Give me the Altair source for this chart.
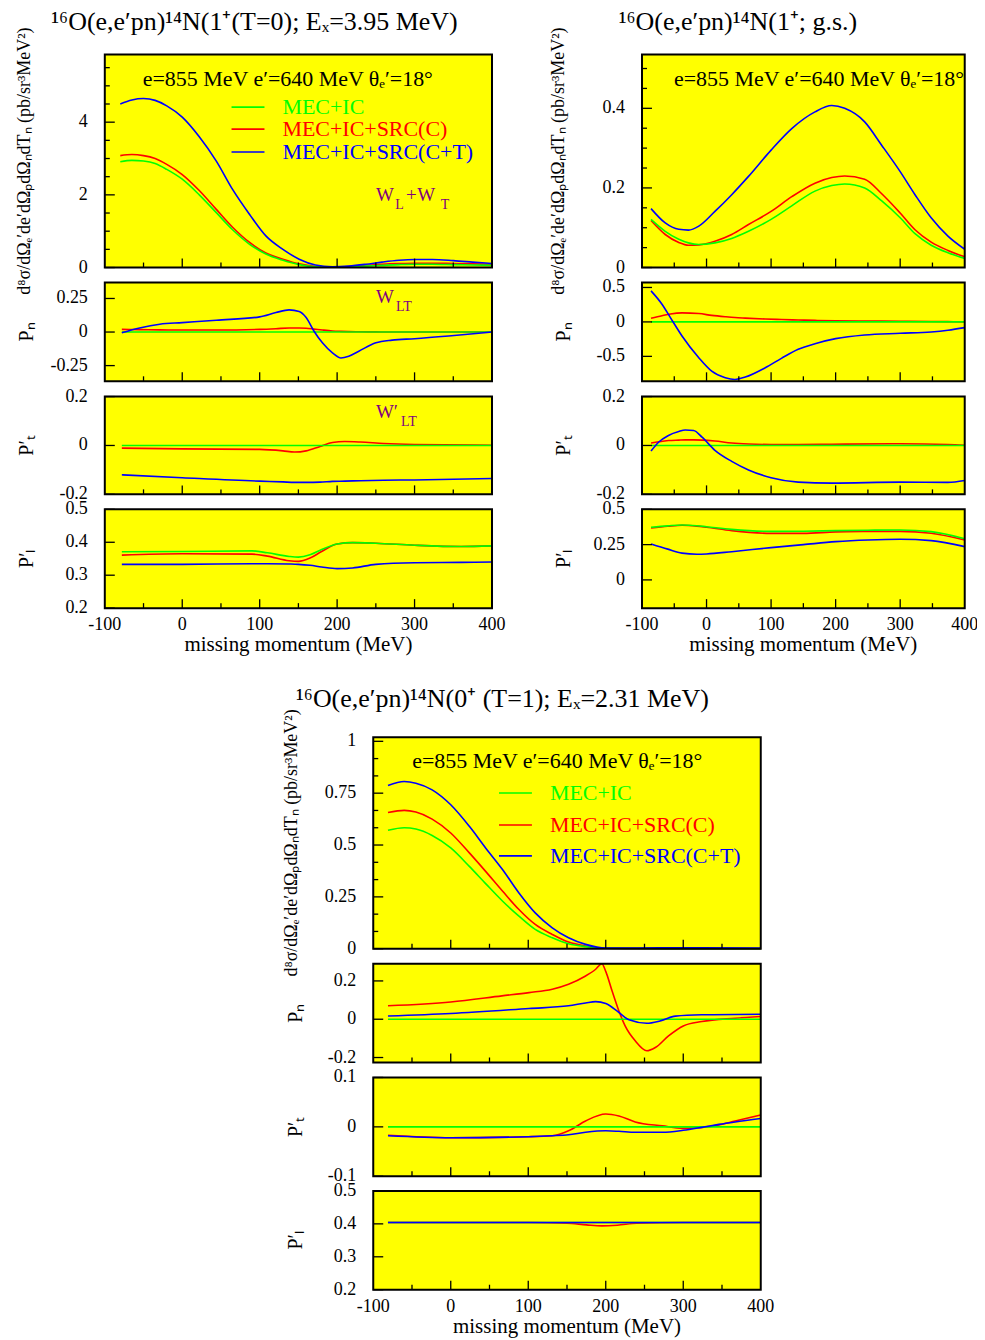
import altair as alt
import pandas as pd

FONT = "Liberation Serif"
GREEN, RED, BLUE = "#00ff00", "#ff0000", "#0000ff"
YELLOW = "#ffff00"
PURPLE = "#800080"

SERIES_NAMES = ["MEC+IC", "MEC+IC+SRC(C)", "MEC+IC+SRC(C+T)"]
SERIES_COLORS = [GREEN, RED, BLUE]

X_LABELS = [-100, 0, 100, 200, 300, 400]
X_MAJOR = [0, 100, 200, 300]
X_MINOR = [-50, 50, 150, 250, 350]

TITLE_L = "¹⁶O(e,e′pn)¹⁴N(1⁺(T=0); Eₓ=3.95 MeV)"
TITLE_R = "¹⁶O(e,e′pn)¹⁴N(1⁺; g.s.)"
TITLE_B = "¹⁶O(e,e′pn)¹⁴N(0⁺ (T=1); Eₓ=2.31 MeV)"
KIN = "e=855 MeV e′=640 MeV θₑ′=18°"
YT_CS = "d⁸σ/dΩₑ′de′dΩₚdΩₙdTₙ (pb/sr³MeV²)"
YT_PN = "Pₙ"
YT_PT = "P′ₜ"
YT_PL = "P′ₗ"
XTITLE = "missing momentum (MeV)"

# ---------------- left column: 1+ (T=0), Ex=3.95 MeV ----------------
X_L1 = [-80, -65, -50, -35, -20, 0, 22, 44, 65, 87, 108, 130, 151, 172, 194, 215, 237, 258, 280, 300, 323, 350, 375, 400]
L1_GREEN = [2.91, 2.95, 2.93, 2.86, 2.70, 2.43, 2.00, 1.51, 1.04, 0.64, 0.37, 0.20, 0.08, 0.02, 0.01, 0.02, 0.04, 0.06, 0.08, 0.09, 0.09, 0.08, 0.07, 0.06]
L1_RED = [3.08, 3.11, 3.08, 3.00, 2.84, 2.56, 2.12, 1.60, 1.11, 0.69, 0.40, 0.23, 0.10, 0.03, 0.01, 0.03, 0.06, 0.09, 0.11, 0.12, 0.12, 0.11, 0.10, 0.09]
L1_BLUE = [4.50, 4.61, 4.65, 4.60, 4.45, 4.14, 3.60, 2.93, 2.15, 1.46, 0.87, 0.50, 0.23, 0.07, 0.02, 0.04, 0.09, 0.15, 0.20, 0.22, 0.22, 0.19, 0.15, 0.11]

X_L2 = [-78, -55, -29, 0, 44, 100, 121, 138, 151, 160, 170, 181, 194, 205, 215, 228, 250, 271, 300, 344, 400]
L2_RED = [0.020, 0.018, 0.016, 0.015, 0.015, 0.020, 0.025, 0.030, 0.030, 0.028, 0.022, 0.015, 0.008, 0.005, 0.003, 0.002, 0.001, 0.000, 0.000, 0.000, 0.000]
L2_BLUE = [-0.005, 0.030, 0.058, 0.070, 0.088, 0.113, 0.145, 0.165, 0.153, 0.108, 0.008, -0.080, -0.155, -0.193, -0.180, -0.143, -0.080, -0.060, -0.050, -0.030, 0.000]
X_L2_GREEN = [-78, 400]
L2_GREEN = [0.0, 0.0]

X_L3 = [-78, 0, 100, 130, 145, 160, 178, 194, 210, 230, 260, 300, 400]
L3_RED = [-0.011, -0.014, -0.016, -0.022, -0.027, -0.022, -0.004, 0.012, 0.016, 0.014, 0.008, 0.004, 0.001]
L3_BLUE = [-0.120, -0.132, -0.146, -0.149, -0.151, -0.151, -0.150, -0.147, -0.146, -0.144, -0.142, -0.141, -0.135]
X_L3_GREEN = [-78, 400]
L3_GREEN = [0.0, 0.0]

X_L4 = [-78, 0, 90, 110, 138, 150, 165, 180, 200, 220, 250, 300, 360, 400]
L4_GREEN = [0.371, 0.372, 0.374, 0.368, 0.357, 0.355, 0.362, 0.378, 0.395, 0.399, 0.397, 0.391, 0.387, 0.389]
L4_RED = [0.361, 0.365, 0.364, 0.358, 0.344, 0.342, 0.352, 0.372, 0.395, 0.399, 0.397, 0.391, 0.387, 0.389]
L4_BLUE = [0.333, 0.333, 0.335, 0.335, 0.334, 0.333, 0.330, 0.325, 0.320, 0.322, 0.333, 0.338, 0.339, 0.340]

# ---------------- right column: 1+ g.s. ----------------
X_R1 = [-86, -64, -43, -28, -12, 13, 39, 65, 100, 132, 168, 194, 214, 245, 271, 300, 323, 348, 374, 400]
R1_GREEN = [0.121, 0.091, 0.071, 0.062, 0.058, 0.062, 0.073, 0.091, 0.121, 0.155, 0.192, 0.206, 0.210, 0.200, 0.168, 0.125, 0.085, 0.056, 0.037, 0.023]
R1_RED = [0.118, 0.083, 0.063, 0.056, 0.057, 0.066, 0.083, 0.108, 0.141, 0.178, 0.212, 0.226, 0.230, 0.222, 0.186, 0.137, 0.095, 0.064, 0.043, 0.027]
R1_BLUE = [0.148, 0.112, 0.096, 0.094, 0.104, 0.141, 0.183, 0.229, 0.295, 0.349, 0.391, 0.407, 0.400, 0.366, 0.308, 0.241, 0.183, 0.125, 0.079, 0.046]

X_R2 = [-86, -69, -56, -38, -12, 8, 29, 44, 60, 91, 116, 142, 168, 200, 245, 300, 348, 374, 400]
R2_RED = [0.053, 0.090, 0.115, 0.131, 0.121, 0.095, 0.075, 0.063, 0.055, 0.042, 0.035, 0.028, 0.022, 0.015, 0.012, 0.010, 0.006, 0.004, 0.000]
R2_BLUE = [0.451, 0.257, 0.063, -0.204, -0.519, -0.714, -0.810, -0.835, -0.800, -0.665, -0.529, -0.398, -0.316, -0.243, -0.189, -0.165, -0.146, -0.121, -0.083]
X_R2_GREEN = [-86, 400]
R2_GREEN = [0.0, 0.0]

X_R3 = [-86, -74, -59, -43, -33, -20, -7, 13, 39, 65, 100, 142, 194, 300, 374, 400]
R3_RED = [0.010, 0.015, 0.020, 0.022, 0.023, 0.023, 0.022, 0.018, 0.010, 0.006, 0.004, 0.004, 0.005, 0.007, 0.004, 0.001]
R3_BLUE = [-0.023, 0.014, 0.041, 0.057, 0.063, 0.061, 0.034, -0.020, -0.065, -0.100, -0.132, -0.150, -0.154, -0.150, -0.151, -0.143]
X_R3_GREEN = [-86, 400]
R3_GREEN = [0.0, 0.0]

X_R4 = [-86, -60, -38, -15, 0, 39, 100, 150, 200, 250, 300, 348, 400]
R4_GREEN = [0.373, 0.383, 0.389, 0.384, 0.377, 0.358, 0.344, 0.345, 0.349, 0.352, 0.354, 0.342, 0.292]
R4_RED = [0.368, 0.380, 0.387, 0.381, 0.373, 0.349, 0.330, 0.330, 0.340, 0.343, 0.344, 0.330, 0.283]
R4_BLUE = [0.255, 0.218, 0.190, 0.182, 0.184, 0.200, 0.229, 0.250, 0.271, 0.283, 0.288, 0.278, 0.236]

# ---------------- bottom column: 0+ (T=1), Ex=2.31 MeV ----------------
X_B1 = [-81, -60, -45, -24, 0, 24, 45, 67, 88, 109, 131, 152, 174, 200, 238, 300, 400]
B1_GREEN = [0.571, 0.583, 0.577, 0.546, 0.486, 0.397, 0.314, 0.229, 0.157, 0.093, 0.053, 0.024, 0.010, 0.002, 0.001, 0.000, 0.000]
B1_RED = [0.657, 0.667, 0.659, 0.625, 0.558, 0.462, 0.373, 0.277, 0.189, 0.117, 0.069, 0.032, 0.013, 0.002, 0.001, 0.000, 0.000]
B1_BLUE = [0.787, 0.806, 0.798, 0.766, 0.694, 0.590, 0.486, 0.381, 0.269, 0.173, 0.101, 0.053, 0.021, 0.003, 0.003, 0.005, 0.003]

X_B2_RED = [-81, 0, 66, 101, 131, 152, 174, 187, 195, 200, 208, 217, 225, 238, 253, 264, 281, 300, 324, 367, 400]
B2_RED = [0.070, 0.090, 0.122, 0.139, 0.157, 0.183, 0.226, 0.261, 0.290, 0.250, 0.150, 0.043, -0.035, -0.113, -0.165, -0.148, -0.087, -0.035, -0.012, 0.005, 0.014]
X_B2_BLUE = [-81, 0, 101, 152, 174, 187, 200, 217, 230, 253, 270, 290, 324, 400]
B2_BLUE = [0.017, 0.030, 0.056, 0.070, 0.085, 0.092, 0.082, 0.035, -0.003, -0.021, -0.009, 0.016, 0.023, 0.026]
X_B2_GREEN = [-81, 400]
B2_GREEN = [0.0, 0.0]

X_B3 = [-81, 0, 100, 131, 152, 174, 200, 217, 238, 273, 300, 324, 346, 367, 400]
B3_RED = [-0.017, -0.022, -0.020, -0.018, -0.008, 0.012, 0.026, 0.022, 0.010, 0.002, -0.003, -0.001, 0.004, 0.012, 0.024]
B3_BLUE = [-0.018, -0.022, -0.020, -0.018, -0.016, -0.011, -0.008, -0.009, -0.011, -0.011, -0.007, -0.001, 0.005, 0.010, 0.017]
X_B3_GREEN = [-81, 400]
B3_GREEN = [0.0, 0.0]

X_B4 = [-81, 100, 150, 175, 195, 215, 240, 300, 400]
B4_GREEN = [0.404, 0.404, 0.404, 0.404, 0.404, 0.404, 0.404, 0.404, 0.404]
B4_RED = [0.404, 0.404, 0.402, 0.397, 0.394, 0.396, 0.402, 0.404, 0.404]
B4_BLUE = [0.404, 0.404, 0.404, 0.404, 0.404, 0.404, 0.404, 0.404, 0.404]

LW = 1.6
TICK_FS = 18


def txt(s, x, y, size, color="black", align="left", baseline="middle", angle=0):
    return alt.Chart(pd.DataFrame({"t": [s]})).mark_text(
        font=FONT, fontSize=size, color=color, align=align, baseline=baseline, angle=angle
    ).encode(text="t:N", x=alt.value(x), y=alt.value(y))


def seg(x1, x2, y, color):
    return alt.Chart(pd.DataFrame({"t": [0]})).mark_rule(color=color, strokeWidth=LW).encode(
        x=alt.value(x1), x2=alt.value(x2), y=alt.value(y)
    )


def box(x0, y0, w, h, fill, stroke, sw, fop):
    return alt.Chart(pd.DataFrame({"t": [0]})).mark_rect(
        fill=fill, stroke=stroke, strokeWidth=sw, fillOpacity=fop
    ).encode(x=alt.value(x0), x2=alt.value(x0 + w), y=alt.value(y0), y2=alt.value(y0 + h))


def labels_df(vals, col):
    return pd.DataFrame({col: vals, "t": [f"{v:g}" for v in vals]})


def panel(x0, y0, w, h, ydom, series, ymaj, ymin, ylabels, xlabels, ytitle, ytitle_dx, extras):
    xs = alt.Scale(domain=[-100, 400], range=[x0, x0 + w], nice=False, zero=False)
    ys = alt.Scale(domain=ydom, range=[y0 + h, y0], nice=False, zero=False)
    X = alt.X("x:Q", scale=xs, axis=None)
    Y = alt.Y("y:Q", scale=ys, axis=None)
    layers = [box(x0, y0, w, h, YELLOW, YELLOW, 0, 1)]
    for xv, yv, col in series:
        df = pd.DataFrame({"x": xv, "y": yv})
        layers.append(alt.Chart(df).mark_line(color=col, strokeWidth=LW, interpolate="monotone")
                      .encode(x=X, y=Y))
    layers.append(alt.Chart(pd.DataFrame({"x": X_MAJOR})).mark_rule(color="black", strokeWidth=1.3)
                  .encode(x=X, y=alt.value(y0 + h), y2=alt.value(y0 + h - 9)))
    layers.append(alt.Chart(pd.DataFrame({"x": X_MINOR})).mark_rule(color="black", strokeWidth=1.3)
                  .encode(x=X, y=alt.value(y0 + h), y2=alt.value(y0 + h - 5)))
    layers.append(alt.Chart(pd.DataFrame({"y": ymaj})).mark_rule(color="black", strokeWidth=1.3)
                  .encode(y=Y, x=alt.value(x0), x2=alt.value(x0 + 10)))
    if ymin:
        layers.append(alt.Chart(pd.DataFrame({"y": ymin})).mark_rule(color="black", strokeWidth=1.3)
                      .encode(y=Y, x=alt.value(x0), x2=alt.value(x0 + 5)))
    layers.append(alt.Chart(labels_df(ylabels, "y")).mark_text(
        font=FONT, fontSize=TICK_FS, color="black", align="right", baseline="middle"
    ).encode(y=Y, text="t:N", x=alt.value(x0 - 17)))
    if xlabels:
        layers.append(alt.Chart(labels_df(X_LABELS, "x")).mark_text(
            font=FONT, fontSize=TICK_FS, color="black", align="center", baseline="top"
        ).encode(x=X, text="t:N", y=alt.value(y0 + h + 8)))
        layers.append(txt(XTITLE, x0 + w / 2, y0 + h + 37, 21, align="center"))
    layers.append(txt(ytitle, x0 + ytitle_dx, y0 + h / 2, 18 if ytitle == YT_CS else 20,
                      align="center", angle=270))
    layers.append(box(x0, y0, w, h, YELLOW, "black", 2, 0))
    layers.extend(extras)
    return alt.layer(*layers)


def legend(x1, x2, xt, ys):
    out = []
    for name, col, yy in zip(SERIES_NAMES, SERIES_COLORS, ys):
        out.append(seg(x1, x2, yy, col))
        out.append(txt(name, xt, yy, 22, color=col))
    return out


def wlabel(parts, x0, yb):
    out = []
    for s, dx, sub in parts:
        out.append(txt(s, x0 + dx, yb + (8 if sub else 0), 14 if sub else 19, color=PURPLE,
                       baseline="alphabetic"))
    return out


# panel geometry (pixels inside the plotting view)
XL, WL = 0, 388
XR, WR = 538.3, 323.4
XB, WB = 269, 388.3
Y1, H1 = 0, 213.4
Y2, Y3, Y4 = 228.4, 342.7, 455.7
HP = [99, 98, 99]
YB1, HB1 = 684, 212
YB2, YB3, YB4 = 911, 1025, 1138.7
TFS = 26

L1 = panel(XL, Y1, WL, H1, [0, 5.86],
           [(X_L1, L1_RED, RED), (X_L1, L1_GREEN, GREEN), (X_L1, L1_BLUE, BLUE)],
           [0, 2, 4], [0.5, 1, 1.5, 2.5, 3, 3.5, 4.5, 5, 5.5], [0, 2, 4], False, YT_CS, -80,
           [txt(TITLE_L, 150, -32.5, TFS, align="center"), txt(KIN, 38, 24, 22)]
           + legend(127, 160, 178, [52.7, 74.7, 97.7])
           + wlabel([("W", 0, False), ("L", 19.3, True), ("+", 30, False), ("W", 41.3, False),
                     ("T", 65, True)], 271.7, 146.7))
L2 = panel(XL, Y2, WL, HP[0], [-0.367, 0.369],
           [(X_L2, L2_RED, RED), (X_L2_GREEN, L2_GREEN, GREEN), (X_L2, L2_BLUE, BLUE)],
           [-0.25, 0, 0.25], [], [-0.25, 0, 0.25], False, YT_PN, -78,
           wlabel([("W", 0, False), ("LT", 20, True)], 271.7, 249))
L3 = panel(XL, Y3, WL, HP[1], [-0.2, 0.2],
           [(X_L3, L3_RED, RED), (X_L3_GREEN, L3_GREEN, GREEN), (X_L3, L3_BLUE, BLUE)],
           [-0.2, 0, 0.2], [], [-0.2, 0, 0.2], False, YT_PT, -78,
           wlabel([("W′", 0, False), ("LT", 25, True)], 271.7, 364))
L4 = panel(XL, Y4, WL, HP[2], [0.2, 0.5],
           [(X_L4, L4_RED, RED), (X_L4, L4_GREEN, GREEN), (X_L4, L4_BLUE, BLUE)],
           [0.2, 0.3, 0.4, 0.5], [], [0.2, 0.3, 0.4, 0.5], True, YT_PL, -78, [])

R1 = panel(XR, Y1, WR, H1, [0, 0.535],
           [(X_R1, R1_RED, RED), (X_R1, R1_GREEN, GREEN), (X_R1, R1_BLUE, BLUE)],
           [0, 0.2, 0.4], [0.05, 0.1, 0.15, 0.25, 0.3, 0.35, 0.45, 0.5], [0, 0.2, 0.4], False,
           YT_CS, -83,
           [txt(TITLE_R, 634.5, -32.5, TFS, align="center"), txt(KIN, XR + 32, 24, 22)])
R2 = panel(XR, Y2, WR, HP[0], [-0.862, 0.572],
           [(X_R2, R2_RED, RED), (X_R2_GREEN, R2_GREEN, GREEN), (X_R2, R2_BLUE, BLUE)],
           [-0.5, 0, 0.5], [], [-0.5, 0, 0.5], False, YT_PN, -78, [])
R3 = panel(XR, Y3, WR, HP[1], [-0.2, 0.2],
           [(X_R3, R3_RED, RED), (X_R3_GREEN, R3_GREEN, GREEN), (X_R3, R3_BLUE, BLUE)],
           [-0.2, 0, 0.2], [], [-0.2, 0, 0.2], False, YT_PT, -78, [])
R4 = panel(XR, Y4, WR, HP[2], [-0.2, 0.5],
           [(X_R4, R4_RED, RED), (X_R4, R4_GREEN, GREEN), (X_R4, R4_BLUE, BLUE)],
           [0, 0.25, 0.5], [], [0, 0.25, 0.5], True, YT_PL, -78, [])

B1 = panel(XB, YB1, WB, HB1, [0, 1.02],
           [(X_B1, B1_RED, RED), (X_B1, B1_GREEN, GREEN), (X_B1, B1_BLUE, BLUE)],
           [0, 0.25, 0.5, 0.75, 1],
           [0.0833, 0.1667, 0.3333, 0.4167, 0.5833, 0.6667, 0.8333, 0.9167],
           [0, 0.25, 0.5, 0.75, 1], False, YT_CS, -81,
           [txt(TITLE_B, 398.5, YB1 - 38, TFS, align="center"), txt(KIN, XB + 39, YB1 + 24, 22)]
           + legend(XB + 126, XB + 159, XB + 177, [YB1 + 56, YB1 + 88, YB1 + 119]))
B2 = panel(XB, YB2, WB, 99, [-0.226, 0.29],
           [(X_B2_RED, B2_RED, RED), (X_B2_GREEN, B2_GREEN, GREEN), (X_B2_BLUE, B2_BLUE, BLUE)],
           [-0.2, 0, 0.2], [], [-0.2, 0, 0.2], False, YT_PN, -77, [])
B3 = panel(XB, YB3, WB, 99, [-0.1, 0.1],
           [(X_B3, B3_RED, RED), (X_B3_GREEN, B3_GREEN, GREEN), (X_B3, B3_BLUE, BLUE)],
           [-0.1, 0, 0.1], [], [-0.1, 0, 0.1], False, YT_PT, -77, [])
B4 = panel(XB, YB4, WB, 99, [0.2, 0.5],
           [(X_B4, B4_RED, RED), (X_B4, B4_GREEN, GREEN), (X_B4, B4_BLUE, BLUE)],
           [0.2, 0.3, 0.4, 0.5], [], [0.2, 0.3, 0.4, 0.5], True, YT_PL, -77, [])

chart = alt.layer(L1, L2, L3, L4, R1, R2, R3, R4, B1, B2, B3, B4).resolve_scale(
    x="independent", y="independent"
).properties(
    width=862, height=1238,
    autosize=alt.AutoSizeParams(type="none"),
    padding={"left": 97, "top": 45.3, "right": 12, "bottom": 48},
    background="white",
).configure_view(stroke="transparent")

chart.save("out.html", embed_options={"renderer": "svg", "actions": False})
